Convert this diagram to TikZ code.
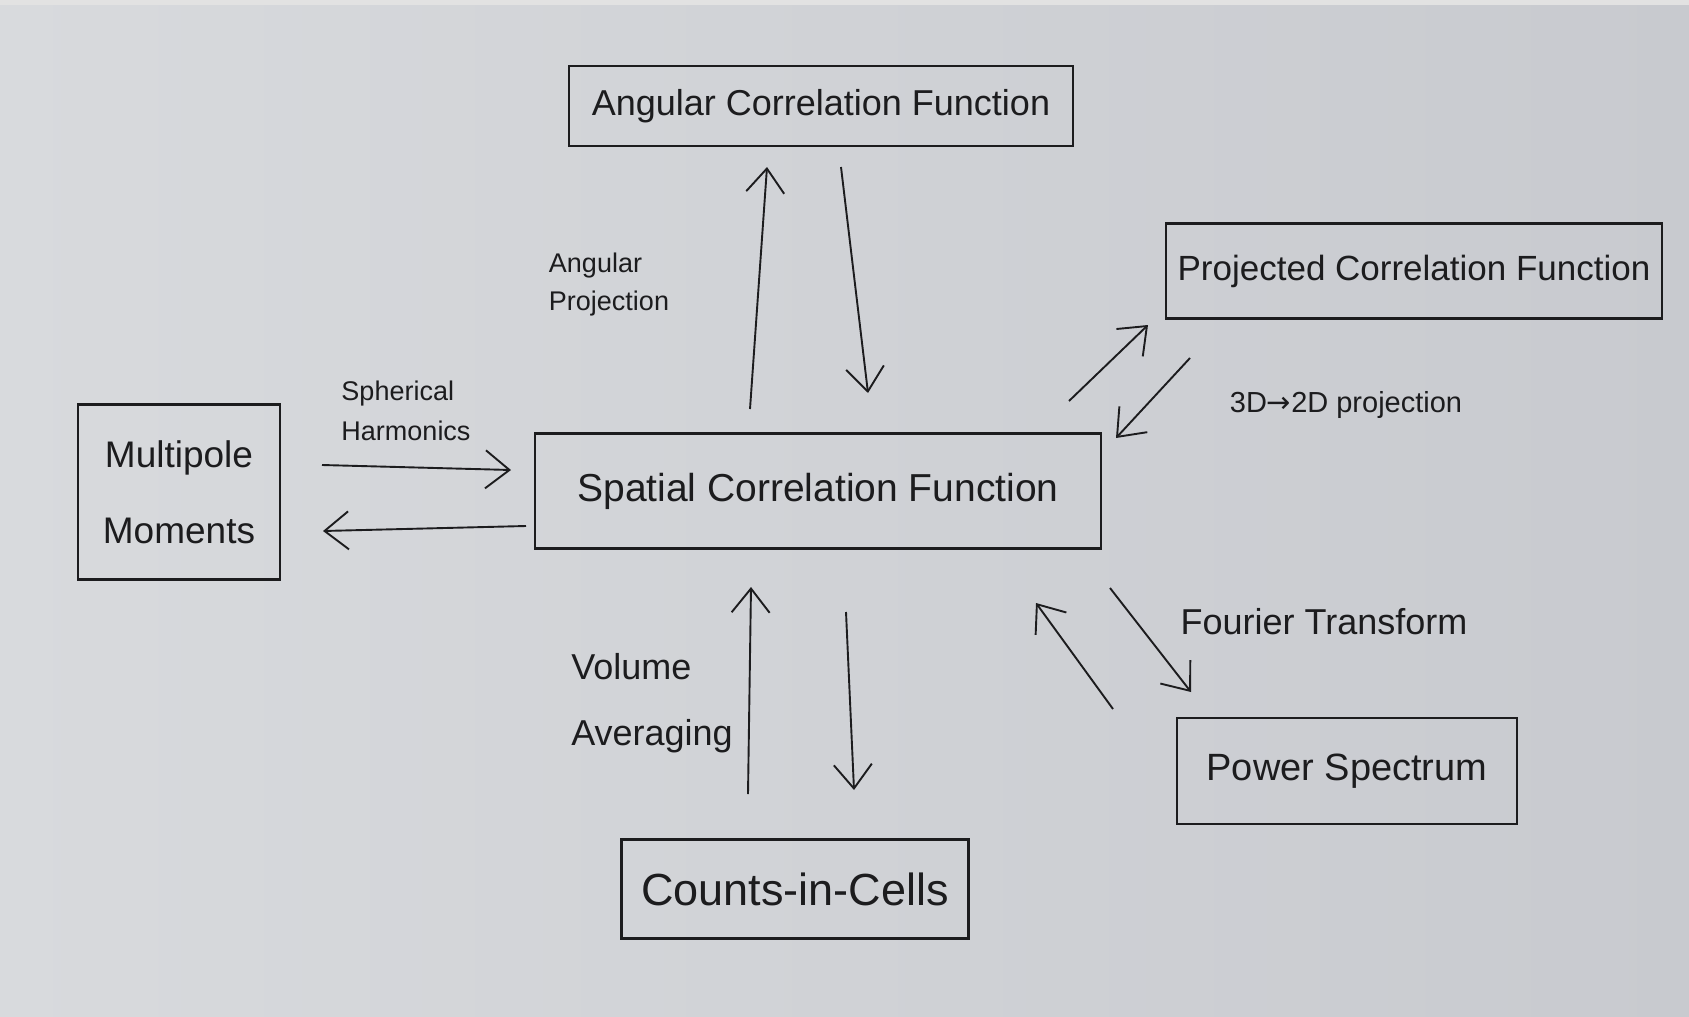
\documentclass[tikz,border=0pt]{standalone}
\usepackage{fontspec}
\setmainfont{Liberation Sans}
\newfontfamily\arrowfont{DejaVu Sans}
\usetikzlibrary{arrows.meta}
\definecolor{bgL}{RGB}{216,218,221}
\definecolor{bgR}{RGB}{200,202,207}
\definecolor{bgTop}{RGB}{226,226,226}
\definecolor{ink}{RGB}{28,28,30}
\tikzset{
  box/.style={draw=ink, line width=2.4pt, inner sep=0pt, align=center, text=ink},
  arr/.style={draw=ink, line width=1.9pt, -{Straight Barb[length=24pt,width=38pt]}},
  lbl/.style={text=ink, align=left, inner sep=0pt},
}
\begin{document}
\begin{tikzpicture}[x=1pt,y=-1pt]
\useasboundingbox (0,0) rectangle (1689,1017);
\shade[left color=bgL, right color=bgR] (0,0) rectangle (1689,1017);
\fill[bgTop] (0,0) rectangle (1689,5);

% boxes
\node[box, minimum width=504pt, minimum height=80pt, font=\fontsize{36}{40}\selectfont] (ang) at (821,106) {Angular Correlation Function};
\node[box, minimum width=496pt, minimum height=95pt, font=\fontsize{35}{40}\selectfont] (proj) at (1414,271) {Projected Correlation Function};
\node[box, minimum width=202pt, minimum height=175pt, font=\fontsize{37}{76}\selectfont] (multi) at (179,492) {\raisebox{-18pt}{\parbox{190pt}{\centering Multipole\\Moments}}};
\node[box, minimum width=566pt, minimum height=115pt, font=\fontsize{39}{44}\selectfont] (spatial) at (818,491) {Spatial Correlation Function};
\node[box, minimum width=347pt, minimum height=99pt, font=\fontsize{45}{48}\selectfont] (cic) at (795,889) {Counts-in-Cells};
\node[box, minimum width=340pt, minimum height=106pt, font=\fontsize{38}{42}\selectfont] (power) at (1347,771) {Power Spectrum};

% labels
\node[lbl, font=\fontsize{27}{38}\selectfont] (lap) at (609,285) {Angular\\Projection};
\node[lbl, font=\fontsize{27}{40}\selectfont] (lsh) at (406,411) {Spherical\\Harmonics};
\node[lbl, font=\fontsize{29}{34}\selectfont] (l32) at (1346,405) {3D{\arrowfont →}2D projection};
\node[lbl, font=\fontsize{36}{66}\selectfont] (lva) at (652,703) {Volume\\Averaging};
\node[lbl, font=\fontsize{36}{40}\selectfont] (lft) at (1324,622) {Fourier Transform};

% arrow end points
\coordinate (a1s) at (750,409); \coordinate (a1e) at (767,167);
\coordinate (a2s) at (841,167); \coordinate (a2e) at (868,393);
\coordinate (a3s) at (1069,401); \coordinate (a3e) at (1148,325);
\coordinate (a4s) at (1190,358); \coordinate (a4e) at (1116,438);
\coordinate (a5s) at (322,465); \coordinate (a5e) at (511,470);
\coordinate (a6s) at (526,526); \coordinate (a6e) at (323,531);
\coordinate (a7s) at (748,794); \coordinate (a7e) at (751,587);
\coordinate (a8s) at (846,612); \coordinate (a8e) at (854,790);
\coordinate (a9s) at (1110,588); \coordinate (a9e) at (1191,692);
\coordinate (a10s) at (1113,709); \coordinate (a10e) at (1036,603);

\draw[arr] (a1s) -- (a1e);
\draw[arr] (a2s) -- (a2e);
\draw[arr] (a3s) -- (a3e);
\draw[arr] (a4s) -- (a4e);
\draw[arr] (a5s) -- (a5e);
\draw[arr] (a6s) -- (a6e);
\draw[arr] (a7s) -- (a7e);
\draw[arr] (a8s) -- (a8e);
\draw[arr] (a9s) -- (a9e);
\draw[arr] (a10s) -- (a10e);
\end{tikzpicture}
\end{document}
